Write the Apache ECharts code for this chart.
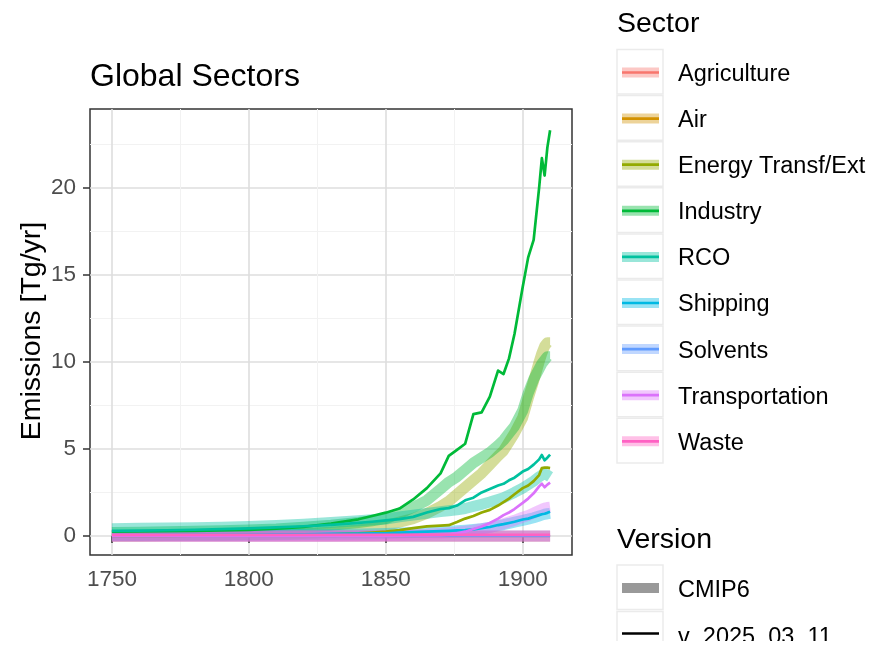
<!DOCTYPE html>
<html><head><meta charset="utf-8">
<script src="https://cdn.jsdelivr.net/npm/echarts@6/dist/echarts.min.js"></script>
<style>html,body{margin:0;padding:0;background:#fff}#c{width:873px;height:648px}</style>
</head><body><div id="c"></div>
<script>
const years = [1750,1760,1770,1780,1790,1800,1810,1820,1830,1840,1845,1850,1855,1860,1865,1870,1873,1876,1879,1882,1885,1888,1891,1893,1895,1897,1900,1902,1904,1906,1907,1908,1909,1910];
const sectors = ['Agriculture','Air','Energy Transf/Ext','Industry','RCO','Shipping','Solvents','Transportation','Waste'];
const sectorColors = ['#F8766D','#D39200','#93AA00','#00BA38','#00C19F','#00B9E3','#619CFF','#DB72FB','#FF61C3'];
const versions = ['CMIP6','v_2025_03_11'];
const xTicks = [1750,1800,1850,1900];
const xMinor = [1775,1825,1875];
const yTicks = [0,5,10,15,20];
const yMinor = [2.5,7.5,12.5,17.5,22.5];

// CMIP6 values (Tg/yr); null = no data in this period
const agricultureCMIP6 = [-0.02,-0.02,-0.02,-0.02,-0.02,-0.02,-0.02,-0.02,-0.02,-0.02,-0.02,-0.02,-0.02,-0.02,-0.02,-0.02,-0.02,-0.02,-0.02,-0.02,-0.02,-0.02,-0.02,-0.02,-0.02,-0.02,-0.02,-0.02,-0.02,-0.02,-0.02,-0.02,-0.02,-0.02];
const airCMIP6 = [null,null,null,null,null,null,null,null,null,null,null,null,null,null,null,null,null,null,null,null,null,null,null,null,null,null,null,null,null,null,null,null,null,null];
const energyCMIP6 = [0.02,0.02,0.03,0.04,0.05,0.07,0.1,0.15,0.22,0.35,0.45,0.6,0.8,1.0,1.3,1.7,2.0,2.4,2.8,3.2,3.6,4.1,4.6,4.9,5.4,5.9,6.8,7.9,8.9,10.0,10.5,10.9,11.1,11.1];
const industryCMIP6 = [0.2,0.22,0.24,0.27,0.3,0.34,0.4,0.5,0.62,0.78,0.88,1.0,1.3,1.65,2.05,2.7,3.1,3.4,3.8,4.2,4.5,4.8,5.2,5.5,5.9,6.3,7.2,8.2,9.0,9.6,9.9,10.1,10.3,10.3];
const rcoCMIP6 = [0.42,0.44,0.46,0.48,0.51,0.54,0.6,0.68,0.78,0.88,0.93,0.98,1.1,1.2,1.3,1.4,1.45,1.5,1.58,1.7,1.82,1.95,2.1,2.2,2.35,2.5,2.75,2.95,3.15,3.4,3.5,3.55,3.5,3.4];
const shippingCMIP6 = [0.03,0.03,0.04,0.04,0.05,0.06,0.07,0.08,0.1,0.12,0.13,0.15,0.17,0.2,0.23,0.26,0.28,0.3,0.33,0.37,0.42,0.5,0.6,0.65,0.72,0.8,0.9,0.97,1.05,1.15,1.2,1.25,1.28,1.3];
const solventsCMIP6 = [0,0,0,0,0,0,0,0,0,0,0,0,0,0,0,0,0,0,0,0,0,0,0,0,0,0,0,0,0,0,0,0,0,0];
const transportationCMIP6 = [0,0,0,0,0,0,0,0,0,0.01,0.02,0.03,0.05,0.07,0.1,0.15,0.18,0.22,0.28,0.34,0.42,0.5,0.62,0.7,0.8,0.9,1.08,1.18,1.32,1.47,1.54,1.6,1.64,1.66];
const wasteCMIP6 = [0,0,0,0,0,0,0,0,0,0,0,0,0,0,0,0,0,0,0,0,0,0,0,0,0,0,0,0,0,0,0,0,0,0];

// v_2025_03_11 values (Tg/yr)
const agricultureV2025 = [0,0,0,0,0,0,0,0,0,0,0,0,0,0,0,0,0,0,0,0,0,0,0,0,0,0,0,0,0,0,0,0,0,0];
const airV2025 = [null,null,null,null,null,null,null,null,null,null,null,null,null,null,null,null,null,null,null,null,null,null,null,null,null,null,null,null,null,null,null,null,null,null];
const energyV2025 = [0.01,0.01,0.01,0.02,0.02,0.03,0.04,0.06,0.1,0.15,0.2,0.25,0.34,0.45,0.55,0.6,0.62,0.8,1.0,1.15,1.35,1.5,1.75,1.95,2.15,2.4,2.75,2.9,3.15,3.5,3.9,3.93,3.93,3.9];
const industryV2025 = [0.25,0.26,0.28,0.30,0.32,0.35,0.42,0.52,0.72,0.96,1.15,1.34,1.58,2.1,2.75,3.6,4.6,4.95,5.3,7.0,7.1,8.0,9.5,9.3,10.2,11.6,14.3,16.0,17.0,20.0,21.7,20.7,22.3,23.3];
const rcoV2025 = [0.3,0.31,0.33,0.36,0.4,0.44,0.5,0.56,0.64,0.75,0.82,0.9,0.97,1.1,1.35,1.55,1.6,1.75,2.05,2.2,2.5,2.7,2.9,3.0,3.2,3.35,3.7,3.85,4.1,4.4,4.65,4.35,4.5,4.68];
const shippingV2025 = [0.05,0.05,0.06,0.06,0.07,0.08,0.09,0.1,0.12,0.14,0.15,0.16,0.19,0.22,0.25,0.28,0.3,0.32,0.34,0.38,0.45,0.52,0.63,0.68,0.75,0.82,0.95,1.0,1.1,1.2,1.25,1.28,1.33,1.39];
const solventsV2025 = [0,0,0,0,0,0,0,0,0,0,0,0,0,0,0,0,0,0,0,0,0,0,0,0,0,0,0,0,0,0,0,0,0,0];
const transportationV2025 = [0,0,0,0,0,0,0,0,0,0,0,0.01,0.02,0.03,0.04,0.05,0.08,0.15,0.25,0.4,0.55,0.75,1.0,1.2,1.35,1.55,1.9,2.15,2.45,2.85,3.0,2.8,2.95,3.06];
const wasteV2025 = [0.07,0.07,0.07,0.07,0.07,0.07,0.07,0.07,0.07,0.07,0.07,0.07,0.07,0.07,0.07,0.07,0.07,0.07,0.07,0.07,0.07,0.07,0.07,0.07,0.07,0.07,0.07,0.07,0.07,0.07,0.07,0.07,0.07,0.07];

const cmip6 = [agricultureCMIP6, airCMIP6, energyCMIP6, industryCMIP6, rcoCMIP6, shippingCMIP6, solventsCMIP6, transportationCMIP6, wasteCMIP6];
const v2025 = [agricultureV2025, airV2025, energyV2025, industryV2025, rcoV2025, shippingV2025, solventsV2025, transportationV2025, wasteV2025];

const FONT = '"Liberation Sans", Arial, Helvetica, sans-serif';
const BAND_W = 11, LINE_W = 2.7, BAND_OP = 0.4;

const pairs = vals => years.map((y, i) => [y, vals[i] === null ? '-' : vals[i]]);
const series = [];
sectors.forEach((s, i) => {
  series.push({
    name: s + ' ' + versions[0], type: 'line', data: pairs(cmip6[i]), showSymbol: false, silent: true,
    xAxisIndex: 0, yAxisIndex: 0,
    lineStyle: { color: sectorColors[i], width: BAND_W, opacity: BAND_OP, cap: 'butt', join: 'round' },
    z: 2
  });
});
sectors.forEach((s, i) => {
  series.push({
    name: s + ' ' + versions[1], type: 'line', data: pairs(v2025[i]), showSymbol: false, silent: true,
    xAxisIndex: 0, yAxisIndex: 0,
    lineStyle: { color: sectorColors[i], width: LINE_W, opacity: 1, cap: 'butt', join: 'round' },
    z: 3
  });
});

// Titles and legend drawn as graphics
const graphics = [];
function txt(str, x, y, size, color, rot) {
  const el = { type: 'text', x: x, y: y, style: { text: str, fontSize: size, fontFamily: FONT, fill: color || '#000', verticalAlign: 'middle', align: rot ? 'center' : 'left' }, z: 100 };
  if (rot) el.rotation = rot;
  graphics.push(el);
}
txt('Global Sectors', 90, 77, 32, '#000');
txt('Emissions [Tg/yr]', 32, 331, 28.5, '#000', Math.PI / 2);
txt('Sector', 617, 24, 28.5, '#000');
const BOX_X = 617, BOX_W = 46, PITCH = 46.1, TOP0 = 49.5;
sectors.forEach((s, i) => {
  const top = TOP0 + i * PITCH;
  const cy = top + 23;
  graphics.push({ type: 'rect', shape: { x: BOX_X, y: top, width: BOX_W, height: 44.6 }, style: { fill: '#fff', stroke: '#ebebeb', lineWidth: 1.5 }, z: 100 });
  graphics.push({ type: 'line', shape: { x1: 622, y1: cy, x2: 659, y2: cy }, style: { stroke: sectorColors[i], lineWidth: BAND_W - 1, opacity: BAND_OP }, z: 101 });
  graphics.push({ type: 'line', shape: { x1: 622, y1: cy, x2: 659, y2: cy }, style: { stroke: sectorColors[i], lineWidth: LINE_W }, z: 102 });
  txt(s, 678, cy + 2, 23.5, '#000');
});
txt('Version', 617, 540, 28.5, '#000');
const vTops = [565, 611.5];
versions.forEach((v, i) => {
  const top = vTops[i];
  const cy = top + 23;
  graphics.push({ type: 'rect', shape: { x: BOX_X, y: top, width: BOX_W, height: 44.6 }, style: { fill: '#fff', stroke: '#ebebeb', lineWidth: 1.5 }, z: 100 });
  if (i === 0) {
    graphics.push({ type: 'line', shape: { x1: 622, y1: cy, x2: 659, y2: cy }, style: { stroke: '#000', lineWidth: BAND_W - 1, opacity: BAND_OP }, z: 101 });
  } else {
    graphics.push({ type: 'line', shape: { x1: 622, y1: cy - 1, x2: 659, y2: cy - 1 }, style: { stroke: '#000', lineWidth: LINE_W }, z: 101 });
  }
  txt(v, 678, cy + 3, 23.5, '#000');
});
// crop at bottom like the reference
graphics.push({ type: 'rect', shape: { x: 0, y: 641, width: 873, height: 10 }, style: { fill: '#fff' }, z: 200 });

const axisCommon = { type: 'value', min: 1742, max: 1918 };
const option = {
  animation: false,
  backgroundColor: '#fff',
  grid: { left: 90, top: 109, right: 301, bottom: 93, show: true, borderColor: '#333', borderWidth: 1.5, backgroundColor: 'transparent' },
  xAxis: [
    Object.assign({}, axisCommon, {
      position: 'bottom',
      axisLine: { show: false },
      axisTick: { show: true, length: 7, lineStyle: { color: '#333', width: 1.5 }, customValues: xTicks },
      axisLabel: { show: true, customValues: xTicks, formatter: v => String(v), color: '#4d4d4d', fontSize: 22.5, fontFamily: FONT, margin: 13 },
      splitLine: { show: true, lineStyle: { color: '#dedede', width: 1.6 } }
    }),
    Object.assign({}, axisCommon, {
      position: 'top',
      axisLine: { show: false },
      axisTick: { show: false, customValues: xMinor },
      axisLabel: { show: false, customValues: xMinor },
      splitLine: { show: true, lineStyle: { color: '#f2f2f2', width: 1 } }
    })
  ],
  yAxis: [
    {
      type: 'value', min: -1.09, max: 24.52, position: 'left',
      axisLine: { show: false },
      axisTick: { show: true, length: 7, lineStyle: { color: '#333', width: 1.5 }, customValues: yTicks },
      axisLabel: { show: true, customValues: yTicks, formatter: v => String(v), color: '#4d4d4d', fontSize: 22.5, fontFamily: FONT, margin: 14 },
      splitLine: { show: true, lineStyle: { color: '#dedede', width: 1.6 } }
    },
    {
      type: 'value', min: -1.09, max: 24.52, position: 'right',
      axisLine: { show: false },
      axisTick: { show: false, customValues: yMinor },
      axisLabel: { show: false, customValues: yMinor },
      splitLine: { show: true, lineStyle: { color: '#f2f2f2', width: 1 } }
    }
  ],
  series: series,
  graphic: graphics
};
const chart = echarts.init(document.getElementById('c'), null, { renderer: 'canvas' });
chart.setOption(option);
</script>
</body></html>
